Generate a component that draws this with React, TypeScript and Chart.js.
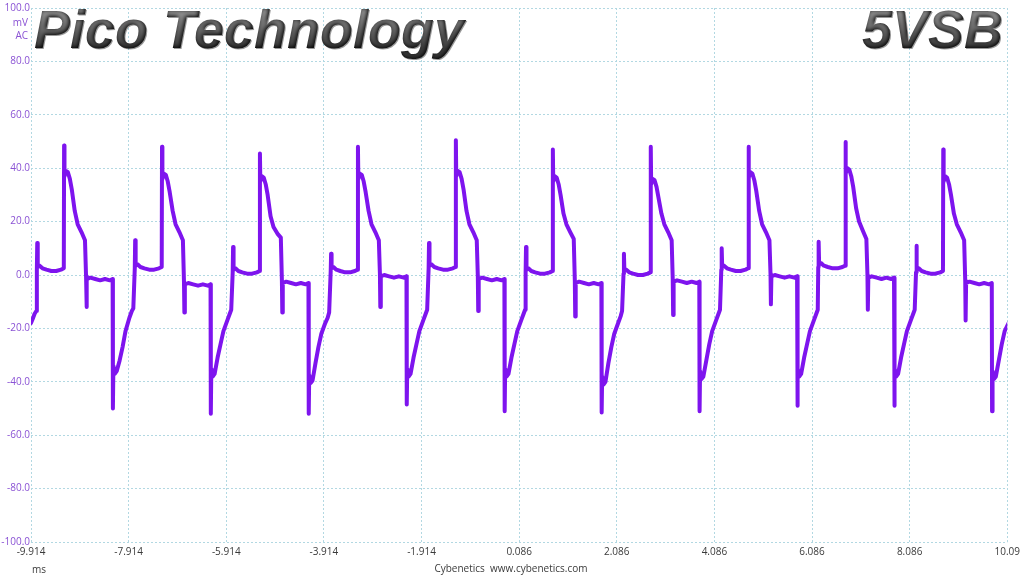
import { useEffect, useRef } from "react";
import { Chart, registerables } from "chart.js";

Chart.register(...registerables);

// ---- axis data ----
const xTickValues = [-9.914, -7.914, -5.914, -3.914, -1.914, 0.086, 2.086, 4.086, 6.086, 8.086, 10.086];
const xTickLabels = ["-9.914", "-7.914", "-5.914", "-3.914", "-1.914", "0.086", "2.086", "4.086", "6.086", "8.086", "10.09"];
const xMin = -9.914;
const xMax = 10.086;
const yMin = -100;
const yMax = 100;
const yStep = 20;

// ---- waveform data (ms, mV) ----
const leadTimesMs = [-9.914, -9.88, -9.84, -9.805];
const leadValuesMv = [-18, -16.5, -14.5, -13.5];

// start time of each switching cycle (rising edge)
const cycleStartsMs = [-9.798, -7.792, -5.786, -3.778, -1.772, 0.215, 2.221, 4.224, 6.21, 8.213];

// sample offsets inside a cycle
const cycleOffsetsMs = [
  0.004, 0.012, 0.022, 0.06, 0.12, 0.2, 0.3, 0.4, 0.5, 0.556,
  0.562, 0.57, 0.6, 0.64, 0.68, 0.72, 0.78, 0.84, 0.92, 0.99,
  1.012, 1.02, 1.03, 1.1, 1.2, 1.3, 1.4, 1.5, 1.556, 1.562,
  1.572, 1.6, 1.64, 1.7, 1.76, 1.82, 1.9, 1.95, 1.98,
];

const cycle1Mv = [2, 12, 3, 3.5, 2.5, 2, 1.5, 1.5, 2, 2.5, 48.5, 37, 39, 38.5, 36, 32, 24, 19, 16, 13, -0.5, -12, -1.5, -1, -1.5, -2, -1.5, -2, -1.5, -50, -34, -37, -36, -32, -27, -21, -16, -13.5, -12.5];
const cycle2Mv = [2.5, 13, 3.5, 4, 3, 2.5, 2, 2, 2.5, 3, 48, 36, 38, 37.5, 35, 31, 24, 19, 16, 13, -2.5, -14, -3.5, -3, -3.5, -4, -3.5, -4, -3.5, -52, -35, -38, -37, -31, -26, -21, -17, -14.5, -13];
const cycle3Mv = [1, 10.5, 2, 2.5, 1.5, 1, 0.5, 0.5, 1, 1.5, 45.5, 35, 37, 36.5, 34, 30, 22, 18, 15.5, 14, -2, -14, -3, -2.5, -3, -3.5, -3, -3.5, -3, -52, -37.5, -40.5, -39.5, -33, -27, -22, -18, -16, -14];
const cycle4Mv = [1.5, 8, 2.5, 3, 2, 1.5, 1, 1, 1.5, 2, 48, 36, 38, 37.5, 35, 31, 24, 19, 16, 13, 0.5, -12, -0.5, 0, -0.5, -1, -0.5, -1, -0.5, -48.5, -35, -38, -37, -31, -26, -21, -17, -14.5, -13];
const cycle5Mv = [2.5, 12, 3.5, 4, 3, 2.5, 2, 2, 2.5, 3, 50.5, 37, 39, 38.5, 36, 32, 24, 19, 16, 13, -0.5, -13.5, -1.5, -1, -1.5, -2, -1.5, -2, -1.5, -51, -35, -38, -37, -31, -26, -21, -17, -14.5, -13];
const cycle6Mv = [1, 10.5, 2, 2.5, 1.5, 1, 0.5, 0.5, 1, 1.5, 47, 35, 37, 36.5, 34, 30, 23, 19, 16, 13.5, -2, -15.5, -3, -2.5, -3, -3.5, -3, -3.5, -3, -51.5, -38, -41, -40, -33, -27, -22, -18, -15.5, -13.5];
const cycle7Mv = [0.5, 8, 1.5, 2, 1, 0.5, 0, 0, 0.5, 1, 48, 34, 36, 35.5, 33, 29, 23, 19, 16, 13, -1.5, -15, -2.5, -2, -2.5, -3, -2.5, -3, -2.5, -51, -36, -39, -38, -32, -26, -21, -17, -14.5, -13];
const cycle8Mv = [2, 10, 3, 3.5, 2.5, 2, 1.5, 1.5, 2, 2.5, 48, 36.5, 38.5, 38, 35.5, 31.5, 24, 19, 16, 13, 0.5, -11, -0.5, 0, -0.5, -1, -0.5, -1, -0.5, -49, -35, -38, -37, -31, -26, -21, -17, -14.5, -13];
const cycle9Mv = [3, 12.5, 4, 4.5, 3.5, 3, 2.5, 2.5, 3, 3.5, 49.8, 38, 40, 39.5, 37, 33, 25, 20, 16.5, 13.5, 0, -13, -1, -0.5, -1, -1.5, -1, -1.5, -1, -49, -35, -38, -37, -31, -26, -21, -17, -14.5, -13];
const cycle10Mv = [1, 11, 2, 2.5, 1.5, 1, 0.5, 0.5, 1, 1.5, 47, 35, 37, 36.5, 34, 30, 23, 19, 16, 13, -2, -17, -3, -2.5, -3, -3.5, -3, -3.5, -3, -51, -36, -39, -38, -32, -26, -21, -18, -15.5, -13];

const cycleValuesMv = [cycle1Mv, cycle2Mv, cycle3Mv, cycle4Mv, cycle5Mv, cycle6Mv, cycle7Mv, cycle8Mv, cycle9Mv, cycle10Mv];

const titleLeft = "Pico Technology";
const titleRight = "5VSB";
const unitLines = ["mV", "AC"];
const xUnit = "ms";
const footer = "Cybenetics  www.cybenetics.com";

const TRACE = "#7e14ee";
const YLABEL = "#8a52d4";
const XLABEL = "#3a3a3a";
const GRID = "#b2d8e2";
const TITLE_FONT = 'italic bold 54px "Liberation Sans", Arial, sans-serif';

function buildPoints() {
  const pts: { x: number; y: number }[] = [];
  leadTimesMs.forEach((t, i) => pts.push({ x: t, y: leadValuesMv[i] }));
  cycleStartsMs.forEach((start, c) => {
    const vals = cycleValuesMv[c];
    cycleOffsetsMs.forEach((off, i) => pts.push({ x: start + off, y: vals[i] }));
  });
  return pts;
}

// bevelled metallic text: black glyph with a blurred grey core
function drawBevelText(ctx: CanvasRenderingContext2D, text: string, x: number, baseline: number, align: "left" | "right") {
  ctx.save();
  ctx.font = TITLE_FONT;
  const w = Math.ceil(ctx.measureText(text).width) + 24;
  ctx.restore();
  const h = 72;
  const pad = 12;
  const base = 56;
  const off = document.createElement("canvas");
  off.width = w;
  off.height = h;
  const o = off.getContext("2d")!;
  o.font = TITLE_FONT;
  o.textBaseline = "alphabetic";
  o.textAlign = "left";
  o.fillStyle = "#000000";
  o.fillText(text, pad, base);
  o.globalCompositeOperation = "source-atop";
  o.filter = "blur(2px)";
  const g = o.createLinearGradient(0, base - 40, 0, base);
  g.addColorStop(0, "#9c9c9c");
  g.addColorStop(0.5, "#6c6c6c");
  g.addColorStop(1, "#3c3c3c");
  o.fillStyle = g;
  o.fillText(text, pad - 1, base - 1);
  o.filter = "none";

  const left = align === "left" ? x - pad : x - (w - 2 * pad) - pad;
  ctx.save();
  ctx.shadowColor = "rgba(0,0,0,0.4)";
  ctx.shadowOffsetX = 1;
  ctx.shadowOffsetY = 1;
  ctx.shadowBlur = 1.5;
  ctx.drawImage(off, left, baseline - base);
  ctx.restore();
}

const textPlugin = {
  id: "overlayText",
  afterDraw(chart: any) {
    const ctx = chart.ctx as CanvasRenderingContext2D;
    const area = chart.chartArea;
    drawBevelText(ctx, titleLeft, 34, 48, "left");
    drawBevelText(ctx, titleRight, 1004, 48, "right");

    ctx.save();
    ctx.font = '10px "Open Sans", sans-serif';
    ctx.fillStyle = YLABEL;
    ctx.textAlign = "right";
    ctx.textBaseline = "middle";
    ctx.fillText(unitLines[0], area.left - 3, area.top + 15);
    ctx.fillText(unitLines[1], area.left - 3, area.top + 28);

    ctx.fillStyle = XLABEL;
    ctx.textAlign = "left";
    ctx.fillText(xUnit, 32, 570);
    ctx.textAlign = "center";
    ctx.fillText(footer, 511, 569);
    ctx.restore();
  },
};

export default function App() {
  const ref = useRef<HTMLCanvasElement | null>(null);

  useEffect(() => {
    document.body.style.margin = "0";
    const canvas = ref.current;
    if (!canvas) return;
    const tickFont = { family: '"Open Sans", sans-serif', size: 10 };
    const chart = new Chart(canvas, {
      type: "line",
      data: {
        datasets: [
          {
            data: buildPoints(),
            borderColor: TRACE,
            borderWidth: 4,
            borderJoinStyle: "round",
            borderCapStyle: "round",
            pointRadius: 0,
            tension: 0,
            fill: false,
            clip: 0,
          } as any,
        ],
      },
      options: {
        animation: false,
        responsive: false,
        maintainAspectRatio: false,
        layout: { padding: { top: 8, right: 14, left: 0, bottom: 0 } },
        plugins: { legend: { display: false }, tooltip: { enabled: false } },
        scales: {
          x: {
            type: "linear",
            min: xMin,
            max: xMax,
            afterBuildTicks: (scale: any) => {
              scale.ticks = xTickValues.map((v) => ({ value: v }));
            },
            afterFit: (scale: any) => {
              scale.height = 34;
            },
            ticks: {
              autoSkip: false,
              maxRotation: 0,
              minRotation: 0,
              padding: 4,
              color: XLABEL,
              font: tickFont,
              callback: (_v: any, i: number) => xTickLabels[i],
            },
            grid: { color: GRID, lineWidth: 1, drawTicks: false },
            border: { display: false, dash: [2, 2] },
          },
          y: {
            type: "linear",
            min: yMin,
            max: yMax,
            afterFit: (scale: any) => {
              scale.width = 31;
            },
            ticks: {
              stepSize: yStep,
              padding: 1,
              color: YLABEL,
              font: tickFont,
              callback: (v: any) => Number(v).toFixed(1),
            },
            grid: { color: GRID, lineWidth: 1, drawTicks: false },
            border: { display: false, dash: [2, 2] },
          },
        },
      } as any,
      plugins: [textPlugin],
    });
    return () => chart.destroy();
  }, []);

  return (
    <div style={{ width: 1024, height: 576, background: "#ffffff" }}>
      <canvas ref={ref} width={1024} height={576} style={{ display: "block" }} />
    </div>
  );
}
